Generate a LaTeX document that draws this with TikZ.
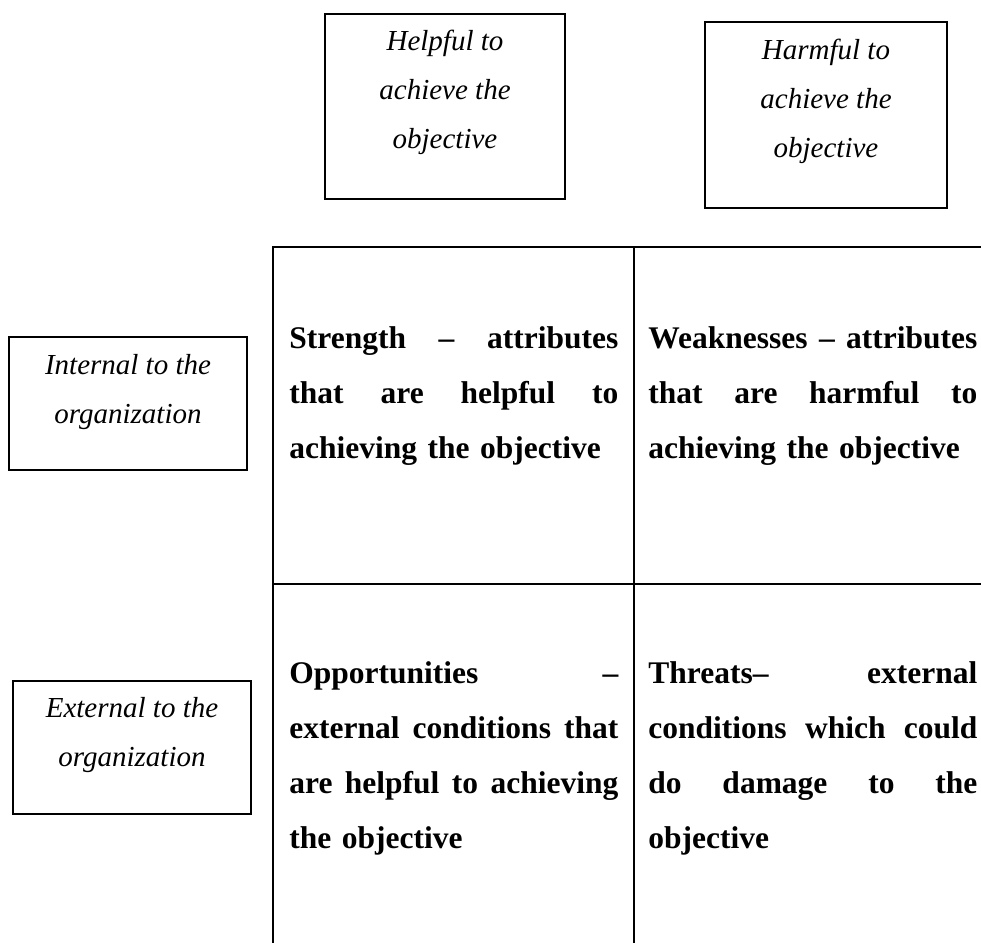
\documentclass[tikz,border=0pt]{standalone}
\usepackage{fontspec}
\setmainfont{Liberation Serif}
\usepackage{tikz}
\usetikzlibrary{calc,positioning}

\tikzset{
  labelbox/.style={draw,line width=0.85pt,inner sep=0pt},
  labeltext/.style={font=\fontsize{14.5}{24.5}\selectfont\itshape,align=center,inner sep=0pt},
  celltext/.style={font=\fontsize{15.75}{27.5}\selectfont\bfseries,text width=164.5pt,align=left,inner sep=0pt,anchor=north west},
  grid line/.style={line width=1pt}
}
% a line stretched to the full cell width
\newcommand{\fullline}[1]{{\spaceskip=0pt\xspaceskip=0pt\makebox[164.5pt][s]{\strut #1}}}

\begin{document}
\begin{tikzpicture}[x=0.5pt,y=-0.5pt]
  \useasboundingbox (0,0) rectangle (981,943);

  % Corners of the grid
  \coordinate (TL) at (273,247); % top left
  \coordinate (TM) at (634,247); % top middle
  \coordinate (TR) at (981,247); % top right
  \coordinate (ML) at (273,584); % middle left
  \coordinate (MM) at (634,584); % centre
  \coordinate (MR) at (981,584); % middle right
  \coordinate (BL) at (273,943); % bottom left
  \coordinate (BM) at (634,943); % bottom middle

  % Draw the grid
  \draw[grid line] (BL) -- (TL) -- (TR);
  \draw[grid line] (TM) -- (BM);
  \draw[grid line] (ML) -- (MR);

  % Column headings
  \node[labelbox,minimum width=120pt,minimum height=92.5pt] (helpful) at (445,106.5) {};
  \node[labeltext,below=1.4pt of helpful.north] (helpfultext) {Helpful to\strut\\achieve the\strut\\objective\strut};
  \node[labelbox,minimum width=121pt,minimum height=93pt] (harmful) at (826,115) {};
  \node[labeltext,below=1.85pt of harmful.north] (harmfultext) {Harmful to\strut\\achieve the\strut\\objective\strut};

  % Row headings
  \node[labelbox,minimum width=119pt,minimum height=66.5pt] (internal) at (128,403.5) {};
  \node[labeltext,below=1.85pt of internal.north] (internaltext) {Internal to the\strut\\organization\strut};
  \node[labelbox,minimum width=119pt,minimum height=66.5pt] (external) at (132,747.5) {};
  \node[labeltext,below=1.35pt of external.north] (externaltext) {External to the\strut\\organization\strut};

  % Cells of the table
  \node[celltext] (strength) at ($(TL)+(16,62.5)$) {\fullline{Strength – attributes}\\\fullline{that are helpful to}\\\strut achieving the objective};
  \node[celltext] (weakness) at ($(TM)+(14,62.5)$) {\fullline{Weaknesses – attributes}\\\fullline{that are harmful to}\\\strut achieving the objective};
  \node[celltext] (opportunity) at ($(ML)+(16,60.5)$) {\fullline{Opportunities –}\\\fullline{external conditions that}\\\fullline{are helpful to achieving}\\\strut the objective};
  \node[celltext] (threat) at ($(MM)+(14,60.5)$) {\fullline{Threats– external}\\\fullline{conditions which could}\\\fullline{do damage to the}\\\strut objective};

\end{tikzpicture}
\end{document}
